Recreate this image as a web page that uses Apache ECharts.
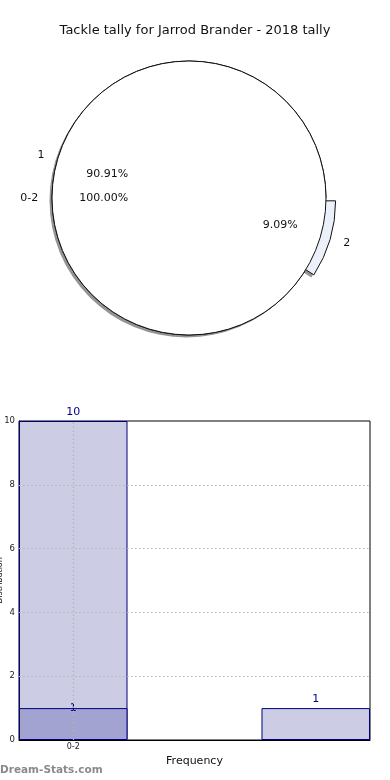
<!DOCTYPE html>
<html><head><meta charset="utf-8">
<script src="https://cdn.jsdelivr.net/npm/echarts@6/dist/echarts.min.js"></script>
<style>html,body{margin:0;padding:0;background:#fff}#c{width:390px;height:780px}</style>
</head><body><div id="c"></div>
<script>
// ---- data ----
var titleText = 'Tackle tally for Jarrod Brander - 2018 tally';
var sliceLabels = ['1', '2'];
var sliceValues = [10, 1];
var innerLabels = ['0-2'];
var innerValues = [11];
var barX = [0, 2.235];          // histogram bin centres
var barValues = [10, 1];        // total per bin
var barLowValues = [1];         // overlaid darker bar
var xTickLabels = ['0-2'];
var yTicks = [0, 2, 4, 6, 8, 10];

// ---- layout ----
var font = 'DejaVu Sans';
var cx = 189, cy = 198, R = 137, explode = 10;
var shX = -2.5, shY = 2.5;
var total = sliceValues.reduce(function (a, b) { return a + b; }, 0);
var startFrac = sliceValues[0] / total;
var midAng = 2 * Math.PI * (startFrac + sliceValues[1] / total / 2);
var ex = cx + explode * Math.cos(midAng), ey = cy - explode * Math.sin(midAng);

var transparent = 'rgba(0,0,0,0)';
var shadowColor = 'rgba(60,60,60,0.55)';
function pct(p) { return p.percent.toFixed(2) + '%'; }
var outLbl = { show: true, position: 'outside', color: '#111', fontFamily: font, fontSize: 11, distanceToLabelLine: 0 };
var outLine = { show: false, length: R * 0.1, length2: 0 };
var base = { type: 'pie', startAngle: 0, clockwise: false, silent: true, animation: false, avoidLabelOverlap: false, percentPrecision: 4 };
function pieSeries(extra) { return Object.assign({}, base, extra); }
function onlyItem(idx, style) {
  return sliceLabels.map(function (n, i) {
    return { name: n, value: sliceValues[i], itemStyle: i === idx ? style : { color: transparent, borderWidth: 0 } };
  });
}

var series = [
  // shadows
  pieSeries({ center: [ex + shX, ey + shY], radius: R, label: { show: false }, data: onlyItem(1, { color: shadowColor, borderWidth: 0 }) }),
  pieSeries({ center: [cx + shX, cy + shY], radius: R, label: { show: false }, itemStyle: { color: shadowColor, borderWidth: 0 },
    data: innerLabels.map(function (n, i) { return { name: n, value: innerValues[i] }; }) }),
  // exploded slice "2"
  pieSeries({
    center: [ex, ey], radius: R, labelLine: outLine,
    data: sliceLabels.map(function (n, i) {
      return i === 1
        ? { name: n, value: sliceValues[i], itemStyle: { color: '#ebf0fb', borderColor: '#111', borderWidth: 1 }, label: outLbl }
        : { name: n, value: sliceValues[i], itemStyle: { color: transparent, borderWidth: 0 }, label: { show: false } };
    })
  }),
  // slice "1"
  pieSeries({
    center: [cx, cy], radius: R, labelLine: outLine,
    data: sliceLabels.map(function (n, i) {
      return i === 0
        ? { name: n, value: sliceValues[i], itemStyle: { color: '#fff', borderColor: '#111', borderWidth: 1 }, label: outLbl }
        : { name: n, value: sliceValues[i], itemStyle: { color: transparent, borderWidth: 0 }, label: { show: false } };
    })
  }),
  // inner "0-2"
  pieSeries({
    center: [cx, cy], radius: R, labelLine: outLine,
    itemStyle: { color: '#fff', borderColor: '#111', borderWidth: 1 },
    label: outLbl,
    data: innerLabels.map(function (n, i) { return { name: n, value: innerValues[i] }; })
  }),
  // percent labels slice 1
  pieSeries({
    center: [cx, cy], radius: R * 1.2, itemStyle: { color: transparent },
    data: sliceLabels.map(function (n, i) {
      return { name: n, value: sliceValues[i], label: { show: i === 0, position: 'inside', formatter: pct, color: '#111', fontFamily: font, fontSize: 11 } };
    })
  }),
  // percent label slice 2 (exploded)
  pieSeries({
    center: [ex, ey], radius: R * 1.2, itemStyle: { color: transparent },
    data: sliceLabels.map(function (n, i) {
      return { name: n, value: sliceValues[i], label: { show: i === 1, position: 'inside', formatter: pct, color: '#111', fontFamily: font, fontSize: 11 } };
    })
  }),
  // percent label inner
  pieSeries({
    center: [cx, cy], radius: R * 1.2, itemStyle: { color: transparent },
    label: { show: true, position: 'inside', formatter: pct, color: '#111', fontFamily: font, fontSize: 11 },
    data: innerLabels.map(function (n, i) { return { name: n, value: innerValues[i] }; })
  }),
  // histogram bars
  {
    type: 'bar', xAxisIndex: 0, yAxisIndex: 0, barWidth: 108.5, barGap: '-100%', silent: true, animation: false,
    itemStyle: { color: '#ccccE4', borderColor: '#00007f', borderWidth: 1 },
    label: { show: true, position: 'top', distance: 3, color: '#00008b', fontFamily: font, fontSize: 11 },
    data: barX.map(function (x, i) { return [x, barValues[i]]; }),
    markLine: {
      silent: true, symbol: 'none', label: { show: false }, animation: false, z: 6,
      lineStyle: { color: '#b4b4b4', type: [1.5, 2.5], width: 1.2 },
      data: [{ xAxis: barX[0] }].concat(yTicks.slice(1, -1).map(function (v) { return { yAxis: v }; }))
    }
  },
  {
    type: 'bar', xAxisIndex: 0, yAxisIndex: 0, barWidth: 108.5, barGap: '-100%', silent: true, animation: false,
    itemStyle: { color: '#a3a3d1', borderColor: '#00007f', borderWidth: 1 },
    label: { show: true, position: ['50%', 0], align: 'center', verticalAlign: 'middle', color: '#00008b', fontFamily: font, fontSize: 11 },
    data: barLowValues.map(function (v, i) { return [barX[i], v]; })
  }
];

var chart = echarts.init(document.getElementById('c'), null, { renderer: 'canvas' });
chart.setOption({
  backgroundColor: '#fff',
  animation: false,
  title: { text: titleText, left: 'center', top: 19, textStyle: { fontFamily: font, fontSize: 13, fontWeight: 'normal', color: '#111' } },
  grid: { left: 19, right: 20, top: 421, bottom: 40, show: true, borderColor: '#000', borderWidth: 1, containLabel: false, outerBoundsMode: 'none' },
  xAxis: {
    type: 'value', min: -0.5, max: 2.735,
    name: 'Frequency', nameLocation: 'middle', nameGap: 16,
    nameTextStyle: { fontFamily: font, fontSize: 11, color: '#111' },
    axisLine: { show: true, onZero: false, lineStyle: { color: '#000' } },
    axisTick: { show: true, customValues: [barX[0]], length: 3, inside: true, lineStyle: { color: '#000' } },
    axisLabel: { show: true, customValues: [barX[0]], formatter: function () { return xTickLabels[0]; }, fontFamily: font, fontSize: 8, color: '#222', margin: 3 },
    splitLine: { show: false }
  },
  yAxis: {
    type: 'value', min: 0, max: 10, interval: 2,
    name: 'Distribution', nameLocation: 'middle', nameGap: 15, nameMoveOverlap: false,
    nameTextStyle: { fontFamily: font, fontSize: 8, color: '#111' },
    axisLine: { show: true, onZero: false, lineStyle: { color: '#000' } },
    axisTick: { show: true, inside: true, length: 3, lineStyle: { color: '#000' } },
    axisLabel: { fontFamily: font, fontSize: 8.5, color: '#222', margin: 4, formatter: function (v) { return yTicks.indexOf(v) >= 0 ? String(v) : ''; } },
    splitLine: { show: false }
  },
  graphic: [{
    type: 'text', left: 0, top: 765,
    style: { text: 'Dream-Stats.com', fontFamily: font, fontSize: 10.5, fontWeight: 'bold', fill: '#8a8a8a' }
  }],
  series: series
});
</script></body></html>
